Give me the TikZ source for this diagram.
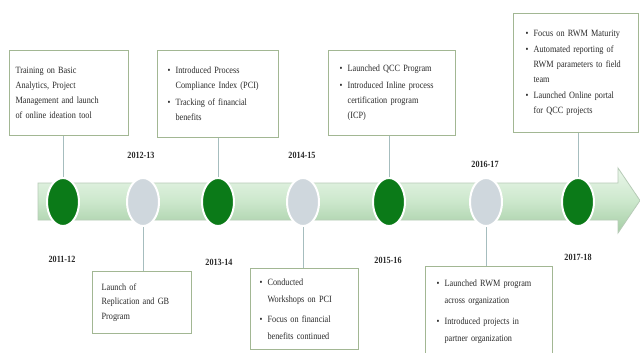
\documentclass[tikz,border=0pt]{standalone}
\usepackage{fontspec}
\setmainfont[FakeStretch=0.86]{Liberation Serif}
\usetikzlibrary{shapes.geometric}
\definecolor{dkgreen}{HTML}{0B7A18}
\definecolor{ltgrey}{HTML}{CFD7DD}
\definecolor{boxedge}{HTML}{A2B793}
\definecolor{conn}{HTML}{A6BDBE}
\definecolor{bandtop}{HTML}{EAF6EA}
\definecolor{bandmid}{HTML}{CDE8CD}
\definecolor{bandbot}{HTML}{A4CDA4}
\definecolor{bandedge}{HTML}{B7CBB7}
\definecolor{txt}{HTML}{2A2A2A}
\newcommand{\bl}{\makebox[8bp][l]{\textbullet}}
\newcommand{\ct}{\hspace*{8bp}}
\hyphenpenalty=10000
\exhyphenpenalty=10000
\begin{document}
\begin{tikzpicture}[x=1bp,y=-1bp,
  infobox/.style={draw=boxedge, line width=1.2bp, fill=white, anchor=north west,
    align=left, inner ysep=2bp, text=txt,
    font=\fontsize{9.6}{15}\selectfont},
  darkdot/.style={ellipse, fill=dkgreen, draw=white, line width=2bp,
    minimum width=32bp, minimum height=48bp, inner sep=0pt},
  greydot/.style={ellipse, fill=ltgrey, draw=white, line width=2bp,
    minimum width=32bp, minimum height=48bp, inner sep=0pt},
  yearlbl/.style={font=\bfseries\fontsize{9.5}{10}\selectfont, text=txt, inner sep=1bp},
  link/.style={draw=conn, line width=0.9bp}]
\useasboundingbox (0,0) rectangle (640,352);
\fill[white] (0,0) rectangle (640,352);

% timeline band with arrow head
\path[draw=bandedge, line width=0.8bp, top color=bandtop, bottom color=bandbot, middle color=bandmid]
  (38,183) -- (618,183) -- (618,168) -- (640,200.5) -- (618,233) -- (618,220) -- (38,220) -- cycle;

% milestones
\node[darkdot] (c1) at (63,202) {};
\node[greydot] (c2) at (143,202) {};
\node[darkdot] (c3) at (218,202) {};
\node[greydot] (c4) at (303,202) {};
\node[darkdot] (c5) at (389,202) {};
\node[greydot] (c6) at (486,202) {};
\node[darkdot] (c7) at (578,202) {};

% years
\node[yearlbl] (y1) at (62,259) {2011-12};
\node[yearlbl] (y2) at (141,155) {2012-13};
\node[yearlbl] (y3) at (219,262) {2013-14};
\node[yearlbl] (y4) at (302,155) {2014-15};
\node[yearlbl] (y5) at (388,260) {2015-16};
\node[yearlbl] (y6) at (485,164) {2016-17};
\node[yearlbl] (y7) at (578,257) {2017-18};

% top boxes
\node[infobox, inner xsep=6bp, text width=107bp, minimum height=85bp] (b1) at (9,50)
  {Training on Basic\\ Analytics, Project\\ Management and launch\\ of online ideation tool};
\node[infobox, inner xsep=10bp, text width=101bp, minimum height=87bp] (b2) at (157,50)
  {\bl Introduced Process\\ \ct Compliance Index (PCI)\\[2bp] \bl Tracking of financial\\ \ct benefits};
\node[infobox, inner xsep=11bp, text width=105bp, minimum height=85bp] (b3) at (328,50)
  {\bl Launched QCC Program\\[2bp] \bl Introduced Inline process\\ \ct certification program\\ \ct (ICP)};
\node[infobox, inner xsep=12bp, text width=101bp, minimum height=119bp] (b4) at (513,13)
  {\bl Focus on RWM Maturity\\[1bp] \bl Automated reporting of\\ \ct RWM parameters to field\\ \ct team\\[1bp] \bl Launched Online portal\\ \ct for QCC projects};

% bottom boxes
\node[infobox, inner xsep=9bp, text width=81bp, minimum height=62bp] (b5) at (92,271)
  {Launch of\\ Replication and GB\\ Program};
\node[infobox, inner xsep=9bp, text width=90bp, minimum height=81bp,
  font=\fontsize{9.6}{17}\selectfont] (b6) at (250,268)
  {\bl Conducted\\ \ct Workshops on PCI\\[3bp] \bl Focus on financial\\ \ct benefits continued};
\node[infobox, inner xsep=11bp, text width=105bp, minimum height=90bp,
  font=\fontsize{9.6}{16.5}\selectfont] (b7) at (425,266)
  {\bl Launched RWM program\\ \ct across organization\\[5bp] \bl Introduced projects in\\ \ct partner organization};

% connectors
\draw[link] (b1.south -| c1) -- (c1.north);
\draw[link] (b2.south -| c3) -- (c3.north);
\draw[link] (b3.south -| c5) -- (c5.north);
\draw[link] (b4.south -| c7) -- (c7.north);
\draw[link] (c2.south) -- (c2 |- b5.north);
\draw[link] (c4.south) -- (c4 |- b6.north);
\draw[link] (c6.south) -- (c6 |- b7.north);
\end{tikzpicture}
\end{document}
